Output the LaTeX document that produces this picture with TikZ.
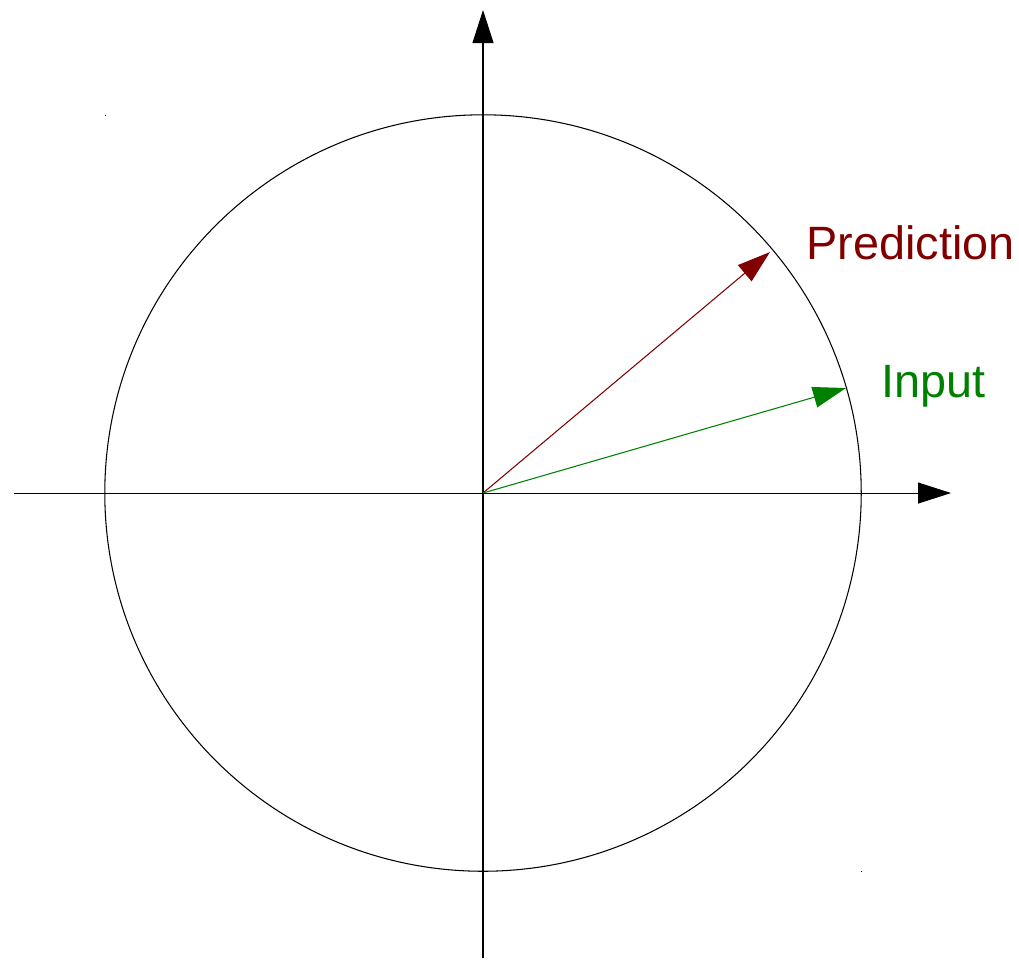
\documentclass[tikz,border=0pt]{standalone}
\usepackage{fontspec}
\setmainfont{Liberation Sans}
\usetikzlibrary{arrows.meta}
\definecolor{predred}{HTML}{800000}
\definecolor{inpgreen}{HTML}{008000}
\tikzset{
  axis/.style={line width=0.3pt,-{Triangle[length=0.33cm,width=0.21cm]}},
  vec/.style={line width=0.3pt,-{Triangle[length=0.33cm,width=0.21cm]}},
  lbl/.style={anchor=base west,inner sep=0pt,font=\fontsize{13.3}{16}\selectfont}
}

\begin{document}
\begin{tikzpicture}[x=0.01cm,y=-0.01cm]
\useasboundingbox (0,0) rectangle (1019,959);
\coordinate (O) at (483,493);
\coordinate (xs) at (14,493);
\coordinate (xe) at (951,493);
\coordinate (ys) at (483,958);
\coordinate (ye) at (483,10);
\coordinate (pe) at (770,252);
\coordinate (ie) at (846,388);
% unit circle
\draw[line width=0.3pt] (O) circle[radius=3.78cm];
\fill (104.5,114.5) rectangle (106,116);
\fill (860.5,870.5) rectangle (862,872);
% axes
\draw[axis] (xs) -- (xe);
\draw[axis] (ys) -- (ye);
% vectors
\draw[vec,predred] (O) -- (pe);
\draw[vec,inpgreen] (O) -- (ie);
\node[lbl,predred] (pred) at (806,259) {Prediction};
\node[lbl,inpgreen] (inp) at (881,397) {Input};
\end{tikzpicture}
\end{document}
